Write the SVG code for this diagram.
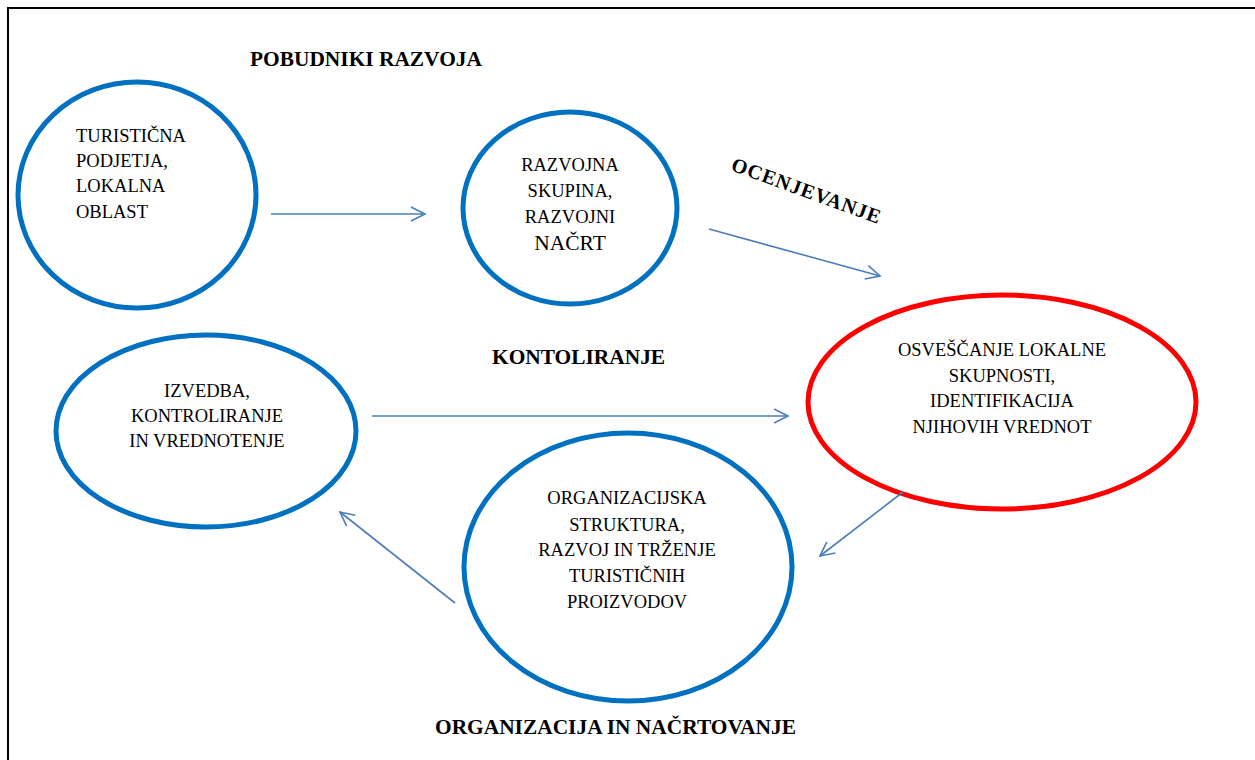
<svg xmlns="http://www.w3.org/2000/svg" width="1255" height="760" viewBox="0 0 1255 760">
<style>
.bg{fill:#fff}
.frame{stroke:#000;stroke-width:2;fill:none}
.blue{fill:#fff;stroke:#0070C0;stroke-width:5}
.red{fill:#fff;stroke:#FF0000;stroke-width:5}
.t{font-family:"Liberation Serif","Times New Roman",serif;font-size:18.5px;fill:#000}
.c{text-anchor:middle}
.b{font-family:"Liberation Serif","Times New Roman",serif;font-size:21.4px;font-weight:bold;fill:#000}
.conn{stroke:#4A7EBB;stroke-width:1.6;fill:none}
</style>
<defs>
<marker id="arr" viewBox="0 0 20 20" refX="18" refY="10" markerWidth="20" markerHeight="20" markerUnits="userSpaceOnUse" orient="auto">
<path d="M4,3 L18,10 L4,17" fill="none" stroke="#4A7EBB" stroke-width="1.6"/>
</marker>
</defs>
<rect class="bg" x="0" y="0" width="1255" height="760"/>
<path class="frame" d="M8,760 L8,8 L1255,8"/>
<g id="labels">
<text class="b" x="250" y="66">POBUDNIKI RAZVOJA</text>
<text class="b" x="492" y="364">KONTOLIRANJE</text>
<text class="b" x="435" y="734">ORGANIZACIJA IN NAČRTOVANJE</text>
<text class="b" x="0" y="0" transform="translate(730,170) rotate(20)" letter-spacing="1" style="font-size:20.3px">OCENJEVANJE</text>
</g>
<g id="node-turisticna">
<ellipse class="blue" cx="137" cy="195" rx="119" ry="113"/>
<text class="t" x="76" y="142">TURISTIČNA</text>
<text class="t" x="76" y="167">PODJETJA,</text>
<text class="t" x="76" y="192">LOKALNA</text>
<text class="t" x="76" y="218">OBLAST</text>
</g>
<g id="node-razvojna">
<ellipse class="blue" cx="570" cy="208" rx="107" ry="96"/>
<text class="t c" x="570" y="171">RAZVOJNA</text>
<text class="t c" x="570" y="197">SKUPINA,</text>
<text class="t c" x="570" y="223">RAZVOJNI</text>
<text class="t c" x="570" y="250" style="font-size:21.5px">NAČRT</text>
</g>
<g id="node-osvescanje">
<ellipse class="red" cx="1002" cy="402" rx="194" ry="107"/>
<text class="t c" x="1002" y="356">OSVEŠČANJE LOKALNE</text>
<text class="t c" x="1002" y="382">SKUPNOSTI,</text>
<text class="t c" x="1002" y="407">IDENTIFIKACIJA</text>
<text class="t c" x="1002" y="433">NJIHOVIH VREDNOT</text>
</g>
<g id="node-izvedba">
<ellipse class="blue" cx="206" cy="431" rx="150" ry="96"/>
<text class="t c" x="207" y="397">IZVEDBA,</text>
<text class="t c" x="207" y="422">KONTROLIRANJE</text>
<text class="t c" x="207" y="447">IN VREDNOTENJE</text>
</g>
<g id="node-organizacijska">
<ellipse class="blue" cx="628" cy="567" rx="164" ry="134"/>
<text class="t c" x="627" y="504">ORGANIZACIJSKA</text>
<text class="t c" x="627" y="531">STRUKTURA,</text>
<text class="t c" x="627" y="556">RAZVOJ IN TRŽENJE</text>
<text class="t c" x="627" y="582">TURISTIČNIH</text>
<text class="t c" x="627" y="608">PROIZVODOV</text>
</g>
<g id="connectors">
<line class="conn" x1="271" y1="214" x2="425" y2="214" marker-end="url(#arr)"/>
<line class="conn" x1="709" y1="229" x2="880" y2="276" marker-end="url(#arr)"/>
<line class="conn" x1="372" y1="416" x2="788" y2="416" marker-end="url(#arr)"/>
<line class="conn" x1="903" y1="492" x2="820" y2="556" marker-end="url(#arr)"/>
<line class="conn" x1="455" y1="603" x2="340" y2="512" marker-end="url(#arr)"/>
</g>
</svg>
